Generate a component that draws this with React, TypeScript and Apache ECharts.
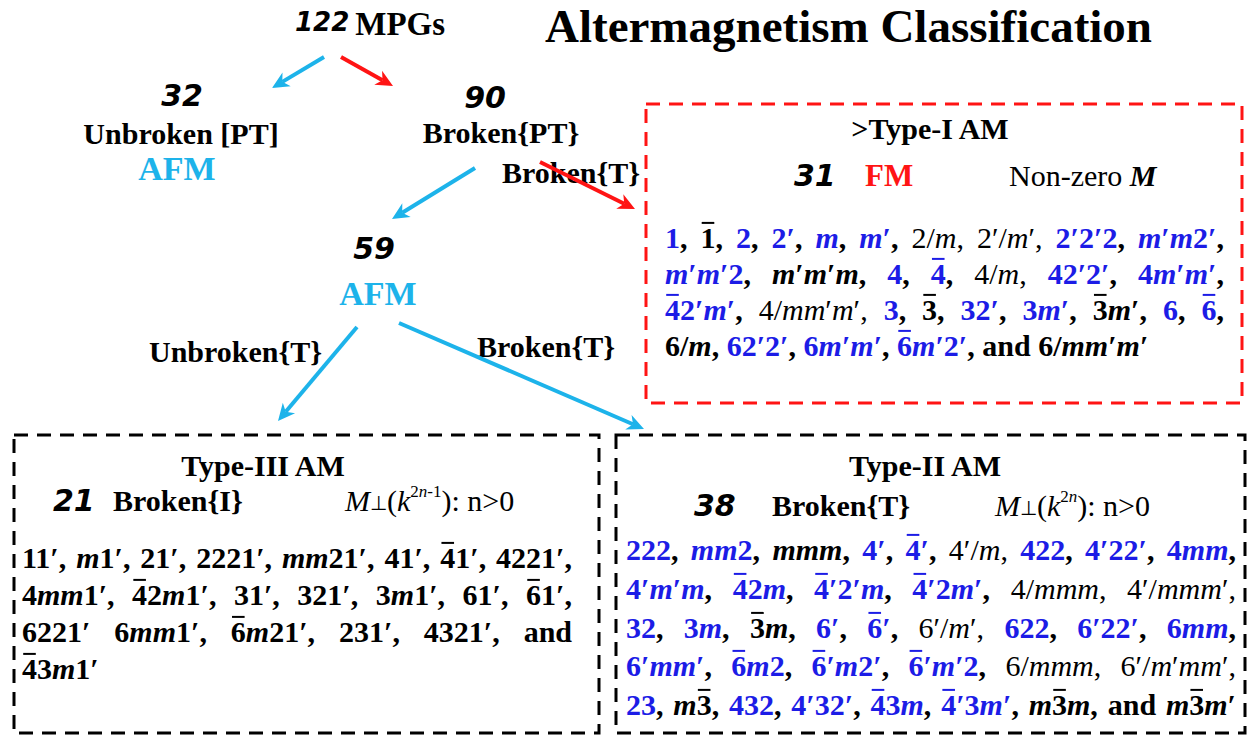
import React, { useEffect, useRef } from "react";
import * as echarts from "echarts";

const W = 1253;
const H = 740;
const SERIF = "'Liberation Serif','Times New Roman',serif";
const SCRIPT = "'DejaVu Sans',sans-serif";
const BLUE = "#1c1ce6";
const SKY = "#1db3ea";
const RED = "#ff1414";
const BLACK = "#000000";

// ---- text content ----
const TITLE = "Altermagnetism Classification";
const ROOT_COUNT = "122";
const ROOT_LABEL = "MPGs";
const UNBROKEN_COUNT = "32";
const UNBROKEN_LABEL = "Unbroken [PT]";
const BROKEN_COUNT = "90";
const BROKEN_LABEL = "Broken{PT}";
const AFM_COUNT = "59";
const AFM_LABEL = "AFM";
const EDGE_BROKEN_T = "Broken{T}";
const EDGE_UNBROKEN_T = "Unbroken{T}";

const TYPE1_TITLE = ">Type-I AM";
const TYPE1_COUNT = "31";
const TYPE1_KIND = "FM";
const TYPE3_TITLE = "Type-III AM";
const TYPE3_COUNT = "21";
const TYPE3_COND = "Broken{I}";
const TYPE2_TITLE = "Type-II AM";
const TYPE2_COUNT = "38";
const TYPE2_COND = "Broken{T}";

// Token code: first char B = blue bold, K = black bold, k = black regular.
// "~" puts a bar over the next character; every "m" is italic.
const TYPE1_LINES: string[][] = [
  ["B1,", "K~1,", "B2,", "B2′,", "Bm,", "Bm′,", "k2/m,", "k2′/m′,", "B2′2′2,", "Bm′m2′,"],
  ["Bm′m′2,", "Km′m′m,", "B4,", "B~4,", "k4/m,", "B42′2′,", "B4m′m′,"],
  ["B~42′m′,", "k4/mm′m′,", "B3,", "K~3,", "B32′,", "B3m′,", "K~3m′,", "B6,", "B~6,"],
  ["K6/m,", "B62′2′,", "B6m′m′,", "B~6m′2′,", "Kand", "K6/mm′m′"],
];
const TYPE3_LINES: string[][] = [
  ["K11′,", "Km1′,", "K21′,", "K2221′,", "Kmm21′,", "K41′,", "K~41′,", "K4221′,"],
  ["K4mm1′,", "K~42m1′,", "K31′,", "K321′,", "K3m1′,", "K61′,", "K~61′,"],
  ["K6221′", "K6mm1′,", "K~6m21′,", "K231′,", "K4321′,", "Kand"],
  ["K~43m1′"],
];
const TYPE2_LINES: string[][] = [
  ["B222,", "Bmm2,", "Kmmm,", "B4′,", "B~4′,", "k4′/m,", "B422,", "B4′22′,", "B4mm,"],
  ["B4′m′m,", "B~42m,", "B~4′2′m,", "B~4′2m′,", "k4/mmm,", "k4′/mmm′,"],
  ["B32,", "B3m,", "K~3m,", "B6′,", "B~6′,", "k6′/m′,", "B622,", "B6′22′,", "B6mm,"],
  ["B6′mm′,", "B~6m2,", "B~6′m2′,", "B~6′m′2,", "k6/mmm,", "k6′/m′mm′,"],
  ["B23,", "Km~3,", "B432,", "B4′32′,", "B~43m,", "B~4′3m′,", "Km~3m,", "Kand", "Km~3m′"],
];

type Seg = {
  t: string;
  size: number;
  bold?: boolean;
  italic?: boolean;
  color?: string;
  family?: string;
  dy?: number;
  over?: boolean;
};

let mctx: CanvasRenderingContext2D | null = null;
function fontStr(s: Seg) {
  return `${s.italic ? "italic " : ""}${s.bold ? "bold " : ""}${s.size}px ${s.family || SERIF}`;
}
function measure(s: Seg) {
  if (!mctx) mctx = document.createElement("canvas").getContext("2d");
  mctx!.font = fontStr(s);
  return mctx!.measureText(s.t).width;
}

function textEl(s: Seg, x: number, y: number, align = "left") {
  return {
    type: "text",
    x,
    y: y + (s.dy || 0),
    silent: true,
    style: {
      text: s.t,
      fill: s.color || BLACK,
      fontSize: s.size,
      fontFamily: s.family || SERIF,
      fontWeight: s.bold ? "bold" : "normal",
      fontStyle: s.italic ? "italic" : "normal",
      align,
      textAlign: align,
      verticalAlign: "middle",
      textVerticalAlign: "middle",
    },
  };
}

function placeSegs(segs: Seg[], x: number, y: number, out: any[]) {
  for (const s of segs) {
    const w = measure(s);
    out.push(textEl(s, x, y));
    if (s.over) {
      const oy = y - s.size * 0.47;
      out.push({
        type: "line",
        silent: true,
        shape: { x1: x + w * 0.08, y1: oy, x2: x + w * 0.92, y2: oy },
        style: { stroke: s.color, lineWidth: 2 },
      });
    }
    x += w;
  }
  return x;
}

function tokenSegs(tok: string, size: number): Seg[] {
  const code = tok[0];
  const body = tok.slice(1);
  const color = code === "B" ? BLUE : BLACK;
  const bold = code !== "k";
  const segs: Seg[] = [];
  let over = false;
  for (const ch of body) {
    if (ch === "~") {
      over = true;
      continue;
    }
    const italic = ch === "m";
    const col = ch === "," ? BLACK : color;
    const last = segs[segs.length - 1];
    if (!over && last && !last.over && !!last.italic === italic && last.color === col) {
      last.t += ch;
    } else {
      segs.push({ t: ch, size, bold, italic, color: col, over });
    }
    over = false;
  }
  return segs;
}

function layoutBlock(
  lines: string[][],
  x0: number,
  x1: number,
  ys: number[],
  justify: boolean[],
  size: number,
  out: any[]
) {
  const space = measure({ t: " ", size, bold: true });
  lines.forEach((line, li) => {
    const toks = line.map((t) => tokenSegs(t, size));
    const widths = toks.map((segs) => segs.reduce((a, s) => a + measure(s), 0));
    const total = widths.reduce((a, b) => a + b, 0);
    const gap = justify[li] && toks.length > 1 ? (x1 - x0 - total) / (toks.length - 1) : space;
    let x = x0;
    toks.forEach((segs) => {
      x = placeSegs(segs, x, ys[li], out) + gap;
    });
  });
}

function arrow(x1: number, y1: number, x2: number, y2: number, color: string, out: any[]) {
  const dx = x2 - x1;
  const dy = y2 - y1;
  const L = Math.hypot(dx, dy);
  const ux = dx / L;
  const uy = dy / L;
  const hl = 17;
  const hw = 8;
  const bx = x2 - ux * hl;
  const by = y2 - uy * hl;
  out.push({
    type: "line",
    silent: true,
    shape: { x1, y1, x2: bx + ux * 5, y2: by + uy * 5 },
    style: { stroke: color, lineWidth: 4 },
  });
  out.push({
    type: "polygon",
    silent: true,
    shape: {
      points: [
        [x2, y2],
        [bx - uy * hw, by + ux * hw],
        [bx + ux * 5, by + uy * 5],
        [bx + uy * hw, by - ux * hw],
      ],
    },
    style: { fill: color },
  });
}

function dashedBox(x: number, y: number, w: number, h: number, color: string, out: any[]) {
  out.push({
    type: "rect",
    silent: true,
    shape: { x, y, width: w, height: h },
    style: { fill: null, stroke: color, lineWidth: 3, lineDash: [14, 9] },
  });
}

function mathSegs(supText: string[]): Seg[] {
  const base = { size: 30, family: SERIF };
  const segs: Seg[] = [
    { ...base, t: "M", italic: true },
    { t: "⊥", size: 20, dy: 3 },
    { ...base, t: "(" },
    { ...base, t: "k", italic: true },
  ];
  supText.forEach((p) => segs.push({ t: p, size: 17, dy: -9, italic: p === "n" }));
  segs.push({ ...base, t: "): n>0" });
  return segs;
}

function buildElements() {
  const out: any[] = [];
  const lbl = (t: string, size: number, bold = true, color = BLACK, family = SERIF, italic = false): Seg => ({
    t,
    size,
    bold,
    color,
    family,
    italic,
  });
  const num = (t: string, size = 30) => lbl(t, size, true, BLACK, SCRIPT, true);

  // title and tree
  out.push(textEl(lbl(TITLE, 47), 545, 26));
  const endNum = placeSegs([num(ROOT_COUNT, 26)], 295, 22, out);
  placeSegs([lbl(ROOT_LABEL, 33)], endNum + 6, 24, out);
  out.push(textEl(num(UNBROKEN_COUNT), 182, 95, "center"));
  out.push(textEl(lbl(UNBROKEN_LABEL, 30), 181, 133, "center"));
  out.push(textEl(lbl(AFM_LABEL, 34, true, SKY), 177, 168, "center"));
  out.push(textEl(num(BROKEN_COUNT), 485, 97, "center"));
  out.push(textEl(lbl(BROKEN_LABEL, 30), 501, 132, "center"));
  out.push(textEl(lbl(EDGE_BROKEN_T, 30), 502, 172));
  out.push(textEl(num(AFM_COUNT), 374, 248, "center"));
  out.push(textEl(lbl(AFM_LABEL, 34, true, SKY), 378, 293, "center"));
  out.push(textEl(lbl(EDGE_UNBROKEN_T, 30), 149, 351));
  out.push(textEl(lbl(EDGE_BROKEN_T, 30), 477, 346));

  // Type-I box
  dashedBox(646, 104, 596, 299, RED, out);
  out.push(textEl(lbl(TYPE1_TITLE, 30), 930, 128, "center"));
  placeSegs([num(TYPE1_COUNT)], 794, 175, out);
  placeSegs([lbl(TYPE1_KIND, 31, true, RED)], 865, 175, out);
  placeSegs([lbl("Non-zero ", 30, false), lbl("M", 30, true, BLACK, SERIF, true)], 1009, 175, out);
  layoutBlock(TYPE1_LINES, 665, 1224, [237, 273, 309, 345], [true, true, true, false], 30, out);

  // Type-III box
  dashedBox(14, 435, 585, 298, BLACK, out);
  out.push(textEl(lbl(TYPE3_TITLE, 30), 263, 465, "center"));
  placeSegs([num(TYPE3_COUNT)], 53, 500, out);
  placeSegs([lbl(TYPE3_COND, 30)], 113, 500, out);
  placeSegs(mathSegs(["2", "n", "-1"]), 345, 500, out);
  layoutBlock(TYPE3_LINES, 22, 572, [557, 594, 631, 668], [true, true, true, false], 30, out);

  // Type-II box
  dashedBox(616, 435, 629, 298, BLACK, out);
  out.push(textEl(lbl(TYPE2_TITLE, 30), 925, 465, "center"));
  placeSegs([num(TYPE2_COUNT)], 694, 505, out);
  placeSegs([lbl(TYPE2_COND, 30)], 772, 505, out);
  placeSegs(mathSegs(["2", "n"]), 995, 505, out);
  layoutBlock(TYPE2_LINES, 626, 1236, [549, 588, 627, 665, 704], [true, true, true, true, true], 30, out);

  // arrows
  arrow(324, 57, 272, 88, SKY, out);
  arrow(341, 57, 393, 86, RED, out);
  arrow(475, 168, 392, 219, SKY, out);
  arrow(540, 162, 635, 209, RED, out);
  arrow(357, 327, 278, 421, SKY, out);
  arrow(399, 323, 644, 429, SKY, out);

  return out;
}

export default function App() {
  const ref = useRef<HTMLDivElement>(null);
  useEffect(() => {
    const chart = echarts.init(ref.current!, null, { renderer: "svg" });
    chart.setOption({
      animation: false,
      backgroundColor: "#ffffff",
      graphic: { elements: buildElements() },
    });
    return () => chart.dispose();
  }, []);
  return (
    <div
      ref={ref}
      style={{ position: "absolute", left: 0, top: 0, width: W, height: H, background: "#fff" }}
    />
  );
}
